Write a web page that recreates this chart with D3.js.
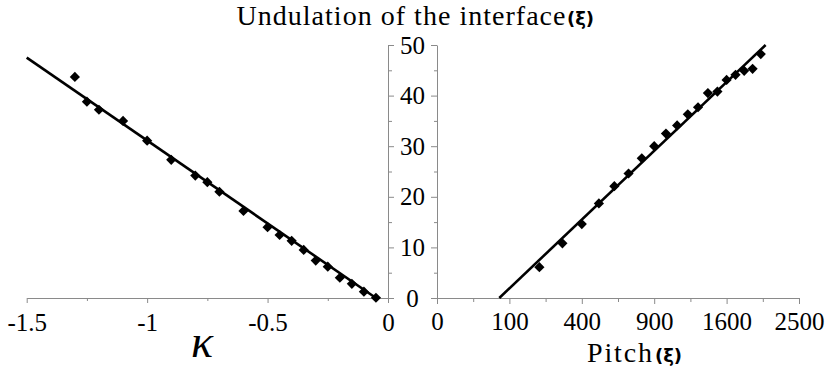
<!DOCTYPE html>
<html><head><meta charset="utf-8">
<script src="https://cdn.jsdelivr.net/npm/d3@7"></script>
</head>
<body style="margin:0">
<svg id="chart" width="830" height="368"></svg>
<script>
// ---- data ----
const kappa = [-1.3,-1.25,-1.2,-1.1,-1.0,-0.9,-0.8,-0.75,-0.7,-0.6,-0.5,-0.45,-0.4,-0.35,-0.3,-0.25,-0.2,-0.15,-0.1,-0.05];
const undulationK = [43.7,38.8,37.2,35.0,31.1,27.3,24.2,22.9,21.0,17.2,14.0,12.45,11.3,9.5,7.4,6.2,4.0,2.8,1.25,0.05];
const fitKappa = [-1.5,-0.05];
const fitKappaY = [47.5,0];

const pitch = [200,300,400,500,600,700,800,900,1000,1100,1200,1300,1400,1500,1600,1700,1800,1900,2000];
const undulationP = [6.1,10.8,14.6,18.7,22.1,24.6,27.6,30.0,32.5,34.1,36.3,37.7,40.5,40.8,43.1,44.1,44.9,45.3,48.2];
const fitPitch = [74,2060];
const fitPitchY = [0,50];

const kappaTicks = [-1.5,-1,-0.5,0];
const kappaMinor = [-1.25,-0.75,-0.25];
const pitchTicks = [0,100,400,900,1600,2500];
const pitchMinor = [25,225,625,1225,2025];
const yTicks = [0,10,20,30,40,50];
const yMinor = [5,15,25,35,45];

const title = "Undulation of the interface";
const unit = "(ξ)";
const xLabelLeft = "κ";
const xLabelRight = "Pitch";

const SERIF = '"Liberation Serif", monospace';
const SANS = '"DejaVu Sans", monospace';

// ---- scales ----
const svg = d3.select("#chart");
const y = d3.scaleLinear().domain([0,50]).range([298,45]);
const xL = d3.scaleLinear().domain([-1.5,0]).range([26.7,388]);
const xR = d3.scaleSqrt().domain([0,2500]).range([437,799]);

const axisColor = "#8a8a8a";
const fmt = d => String(d).replace("\u2212","-");

function styleAxis(g){
  g.attr("font-family",null).attr("font-size",null);
  g.selectAll("path.domain").attr("stroke",axisColor).attr("stroke-width",1);
  g.selectAll(".tick line").attr("stroke",axisColor).attr("stroke-width",1);
  g.selectAll(".tick text").style("font-family",SERIF).attr("font-size",25).attr("fill","#000");
}

// left x axis
const gxL = svg.append("g").attr("transform","translate(0,298)")
  .call(d3.axisBottom(xL).tickValues(kappaTicks).tickFormat(fmt).tickSize(5).tickSizeOuter(0).tickPadding(10));
styleAxis(gxL);
const gxLm = svg.append("g").attr("transform","translate(0,298)")
  .call(d3.axisBottom(xL).tickValues(kappaMinor).tickFormat("").tickSize(3).tickSizeOuter(0));
gxLm.select("path.domain").remove(); styleAxis(gxLm);

// right x axis
const gxR = svg.append("g").attr("transform","translate(0,298)")
  .call(d3.axisBottom(xR).tickValues(pitchTicks).tickFormat(fmt).tickSize(6).tickSizeOuter(0).tickPadding(8));
styleAxis(gxR);
const gxRm = svg.append("g").attr("transform","translate(0,298)")
  .call(d3.axisBottom(xR).tickValues(pitchMinor).tickFormat("").tickSize(4).tickSizeOuter(0));
gxRm.select("path.domain").remove(); styleAxis(gxRm);

// left y axis (at kappa = 0), ticks to the right
const gyL = svg.append("g").attr("transform",`translate(${xL(0)},0)`)
  .call(d3.axisRight(y).tickValues(yTicks).tickFormat("").tickSize(6).tickSizeOuter(0));
styleAxis(gyL);
const gyLm = svg.append("g").attr("transform",`translate(${xL(0)},0)`)
  .call(d3.axisRight(y).tickValues(yMinor).tickFormat("").tickSize(4).tickSizeOuter(0));
gyLm.select("path.domain").remove(); styleAxis(gyLm);

// right y axis (at pitch = 0), ticks to the left
const gyR = svg.append("g").attr("transform",`translate(${xR(0)},0)`)
  .call(d3.axisLeft(y).tickValues(yTicks).tickFormat("").tickSize(6).tickSizeOuter(0));
styleAxis(gyR);
const gyRm = svg.append("g").attr("transform",`translate(${xR(0)},0)`)
  .call(d3.axisLeft(y).tickValues(yMinor).tickFormat("").tickSize(3).tickSizeOuter(0));
gyRm.select("path.domain").remove(); styleAxis(gyRm);

// shared y tick labels centred between both axes
const midX = (xL(0)+xR(0))/2;
svg.append("g").selectAll("text").data(yTicks).join("text")
  .style("font-family",SERIF).attr("font-size",25)
  .attr("x",midX).attr("y",d=>y(d)).attr("dy","0.34em")
  .attr("text-anchor","middle")
  .text(d=>d);

// fit lines
const line = (sx) => d3.line().x(d=>sx(d[0])).y(d=>y(d[1]));
svg.append("path").datum(d3.zip(fitKappa,fitKappaY))
  .attr("d",line(xL)).attr("fill","none").attr("stroke","#000").attr("stroke-width",2.6);
svg.append("path").datum(d3.zip(fitPitch,fitPitchY))
  .attr("d",line(xR)).attr("fill","none").attr("stroke","#000").attr("stroke-width",2.6);

// markers
const sym = d3.symbol().type(d3.symbolSquare).size(52);
svg.append("g").selectAll("path").data(d3.zip(kappa,undulationK)).join("path")
  .attr("d",sym).attr("fill","#000")
  .attr("transform",d=>`translate(${xL(d[0])},${y(d[1])}) rotate(45)`);
svg.append("g").selectAll("path").data(d3.zip(pitch,undulationP)).join("path")
  .attr("d",sym).attr("fill","#000")
  .attr("transform",d=>`translate(${xR(d[0])},${y(d[1])}) rotate(45)`);

// title
svg.append("text").style("font-family",SERIF).attr("font-size",28)
  .attr("x",236.5).attr("y",25)
  .attr("textLength",329).attr("lengthAdjust","spacing").text(title);
svg.append("text").style("font-family",SANS).attr("font-weight","bold").attr("font-size",18)
  .attr("x",567).attr("y",24.5)
  .text(unit);

// x labels
svg.append("text").style("font-family",SERIF).attr("font-style","italic").attr("font-size",46)
  .attr("x",202).attr("y",357).attr("text-anchor","middle")
  .text(xLabelLeft);
svg.append("text").style("font-family",SERIF).attr("font-size",28)
  .attr("x",587).attr("y",362)
  .attr("textLength",65).attr("lengthAdjust","spacing").text(xLabelRight);
svg.append("text").style("font-family",SANS).attr("font-weight","bold").attr("font-size",18)
  .attr("x",655).attr("y",361.5)
  .text(unit);
</script>
</body></html>
